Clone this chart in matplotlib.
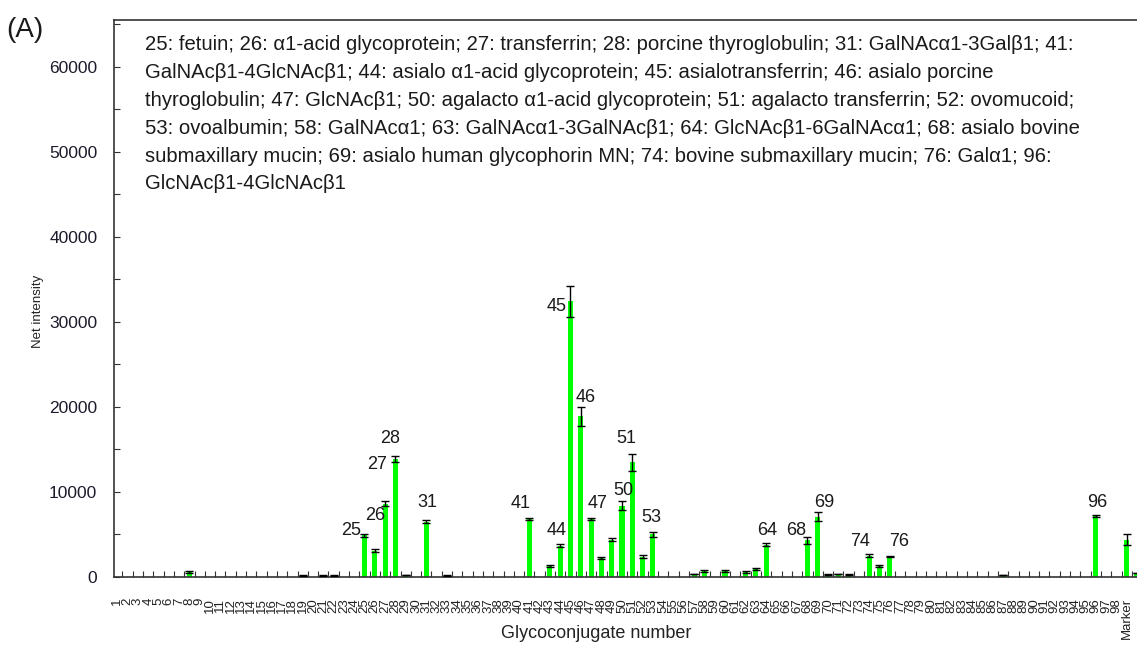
import numpy as np
import matplotlib
matplotlib.use("Agg")
import matplotlib.pyplot as plt
from matplotlib.ticker import MultipleLocator, FixedLocator

plt.rcParams['font.family'] = ['Liberation Sans', 'DejaVu Sans']

# ── Data ─────────────────────────────────────────────────────────
n_cat = 100
cat_labels = [str(i) for i in range(1, 99)] + ["Marker", ""]

bar_ids = [8, 19, 21, 22, 25, 26, 27, 28, 29, 31, 33, 41, 43, 44, 45, 46, 47,
           48, 49, 50, 51, 52, 53, 57, 58, 60, 62, 63, 64, 68, 69, 70, 71, 72,
           74, 75, 76, 87, 96, 99, 100]
intensity = [550, 200, 200, 200, 4900, 3100, 8600, 13900, 250, 6500, 200,
             6800, 1300, 3700, 32400, 18900, 6800, 2200, 4400, 8400, 13500,
             2400, 5000, 300, 700, 700, 600, 900, 3800, 4300, 7100, 250, 300,
             250, 2500, 1300, 2400, 250, 7200, 4400, 500]
err = [100, 50, 50, 50, 150, 150, 300, 350, 0, 150, 50, 100, 100, 200, 1800,
       1100, 100, 100, 200, 500, 1000, 200, 300, 0, 150, 150, 100, 100, 200,
       400, 500, 50, 0, 50, 200, 150, 100, 0, 100, 600, 0]

# labelled bars and where their number sits relative to the bar top
peak_ids = [25, 26, 27, 28, 31, 41, 44, 45, 46, 47, 50, 51, 53, 64, 68, 69, 74, 76, 96]
peak_dx = [-1.3, 0.0, -0.8, -0.5, 0.1, -0.8, -0.3, -1.3, 0.5, 0.6, 0.1, -0.6,
           -0.2, 0.1, -1.1, 0.6, -0.9, 0.9, 0.1]
peak_dy = [450, 3950, 4300, 2050, 2150, 1800, 1600, -2400, 1100, 1800, 1300,
           1800, 1750, 1500, 800, 1200, 1500, 1700, 1500]

legend_lines = [
    "25: fetuin; 26: \u03b11-acid glycoprotein; 27: transferrin; 28: porcine thyroglobulin; 31: GalNAc\u03b11-3Gal\u03b21; 41:",
    "GalNAc\u03b21-4GlcNAc\u03b21; 44: asialo \u03b11-acid glycoprotein; 45: asialotransferrin; 46: asialo porcine",
    "thyroglobulin; 47: GlcNAc\u03b21; 50: agalacto \u03b11-acid glycoprotein; 51: agalacto transferrin; 52: ovomucoid;",
    "53: ovoalbumin; 58: GalNAc\u03b11; 63: GalNAc\u03b11-3GalNAc\u03b21; 64: GlcNAc\u03b21-6GalNAc\u03b11; 68: asialo bovine",
    "submaxillary mucin; 69: asialo human glycophorin MN; 74: bovine submaxillary mucin; 76: Gal\u03b11; 96:",
    "GlcNAc\u03b21-4GlcNAc\u03b21",
]

# ── Figure ───────────────────────────────────────────────────────
W, H = 1137, 652
fig = plt.figure(figsize=(W / 100, H / 100), dpi=100)
fig.patch.set_facecolor('white')

x0_px, y0_px, ytop_px = 114, 577, 20
xmin, xmax = 0.68, 101.0
px_per_cat = 10.3
ax = fig.add_axes([x0_px / W, (H - y0_px) / H,
                   (xmax - xmin) * px_per_cat / W, (y0_px - ytop_px) / H])

ax.bar(bar_ids, intensity, width=0.5, color='#00ff00', edgecolor='none', zorder=2)
ax.errorbar(bar_ids, intensity, yerr=err, fmt='none', ecolor='black',
            elinewidth=1.0, capsize=3, capthick=1.0, zorder=3)

ax.set_xlim(xmin, xmax)
ax.set_ylim(0, 65500)

for spine in ax.spines.values():
    spine.set_color('#333333')
    spine.set_linewidth(1.2)
ax.spines['right'].set_visible(False)

# x: labels at bar centres, small tick marks between bars
ax.xaxis.set_major_locator(FixedLocator(np.arange(1, n_cat + 1)))
ax.set_xticklabels(cat_labels, rotation=90, fontsize=9.5, color='#222222')
ax.xaxis.set_minor_locator(FixedLocator(np.arange(1.5, n_cat + 0.5, 1)))
ax.tick_params(axis='x', which='major', length=0, pad=15)
ax.tick_params(axis='x', which='minor', direction='in', length=4, width=0.8,
               color='#333333')

# y
ax.yaxis.set_major_locator(MultipleLocator(10000))
ax.yaxis.set_minor_locator(MultipleLocator(5000))
ax.tick_params(axis='y', which='both', direction='in', length=4, width=0.8,
               color='#333333', labelsize=12.5, labelcolor='#1b1b2b', pad=12)

fig.text(596 / W, 1 - 634 / H, "Glycoconjugate number", fontsize=13,
         color='#222222', ha='center', va='center')
fig.text(38 / W, 1 - 311 / H, "Net intensity", fontsize=9.5, rotation=90,
         color='#222222', ha='center', va='center')

# peak numbers
lookup = dict(zip(bar_ids, zip(intensity, err)))
for pid, dx, dy in zip(peak_ids, peak_dx, peak_dy):
    v, e = lookup[pid]
    ax.text(pid + dx, v + e + dy, str(pid), fontsize=13, color='#1a1a1a',
            ha='center', va='center', zorder=4)

# legend text block
for i, line in enumerate(legend_lines):
    fig.text(145 / W, 1 - (45 + i * 27.8) / H, line, fontsize=14.6,
             color='#1a1a1a', ha='left', va='center')

fig.text(6 / W, 1 - 30 / H, "(A)", fontsize=20, color='#1a1a1a',
         ha='left', va='center')

fig.savefig('out.png', dpi=100, facecolor='white')
